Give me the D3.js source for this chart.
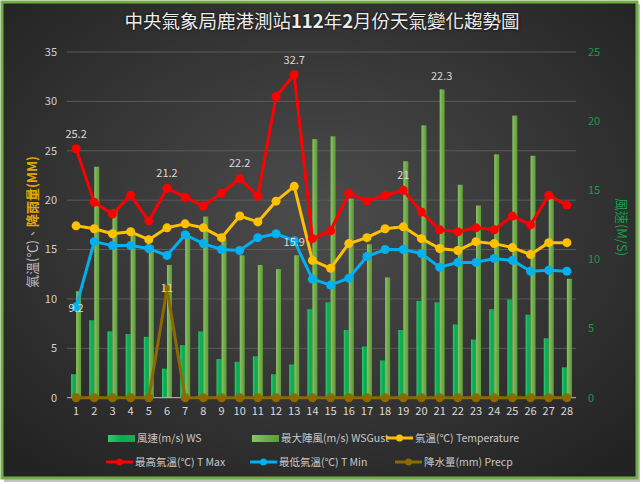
<!DOCTYPE html>
<html><head><meta charset="utf-8">
<script src="https://cdn.jsdelivr.net/npm/d3@7"></script>
<style>body{margin:0;background:#fff;}svg{display:block;font-family:"Noto Sans CJK TC","Noto Sans",sans-serif;}</style>
</head><body><svg id="c" width="643" height="484"></svg>
<script>
const days = d3.range(1, 29).map(String);
const tmax = [25.2,19.8,18.6,20.5,17.9,21.2,20.3,19.4,20.7,22.2,20.4,30.5,32.7,16.1,16.9,20.7,19.9,20.5,21,18.8,17.0,16.8,17.2,17.0,18.4,17.5,20.5,19.5];
const temp = [17.4,17.1,16.6,16.8,16.0,17.2,17.6,17.2,16.2,18.4,17.8,19.9,21.4,13.9,13.1,15.6,16.2,17.1,17.3,16.1,15.1,14.9,15.8,15.6,15.2,14.5,15.7,15.7];
const tmin = [9.2,15.8,15.4,15.4,15.1,14.4,16.5,15.6,15.0,14.9,16.2,16.6,15.9,12.0,11.4,12.1,14.3,15.0,15.0,14.6,13.2,13.7,13.7,14.1,13.9,12.8,12.9,12.8];
const precp = [0,0,0,0,0,11,0,0,0,0,0,0,0,0,0,0,0,0,0,0,0,0,0,0,0,0,0,0];
const ws = [1.7,5.6,4.8,4.6,4.4,2.1,3.8,4.8,2.8,2.6,3.0,1.7,2.4,6.4,6.9,4.9,3.7,2.7,4.9,7.0,6.9,5.3,4.2,6.4,7.1,6.0,4.3,2.2];
const gust = [7.7,16.7,13.6,11.9,11.0,9.6,11.9,13.1,11.5,10.3,9.6,9.3,10.3,18.7,18.9,14.4,11.1,8.7,17.1,19.7,22.3,15.4,13.9,17.6,20.4,17.5,14.6,8.6];
const leftTicks = [0,5,10,15,20,25,30,35];
const rightTicks = [0,5,10,15,20,25];
const labelsTmax = [0,5,9,12,18];
const labelsTmin = [0,12];
const labelsGust = [20];
const labelsPrecp = [5];

const svg = d3.select("#c");
const defs = svg.append("defs");
const rg = defs.append("radialGradient").attr("id","bg").attr("cx","50%").attr("cy","45%").attr("r","70%");
rg.append("stop").attr("offset","0%").attr("stop-color","#4c4c4c");
rg.append("stop").attr("offset","100%").attr("stop-color","#222222");
const g1 = defs.append("linearGradient").attr("id","gws").attr("x1","0").attr("x2","1").attr("y1","0").attr("y2","0");
g1.append("stop").attr("offset","0%").attr("stop-color","#3cc46e");
g1.append("stop").attr("offset","50%").attr("stop-color","#00b050");
g1.append("stop").attr("offset","100%").attr("stop-color","#1fa858");
const g2 = defs.append("linearGradient").attr("id","ggu").attr("x1","0").attr("x2","1").attr("y1","0").attr("y2","0");
g2.append("stop").attr("offset","0%").attr("stop-color","#8cc46a");
g2.append("stop").attr("offset","50%").attr("stop-color","#70ad47");
g2.append("stop").attr("offset","100%").attr("stop-color","#5f9a3a");

svg.append("rect").attr("x",4).attr("y",4).attr("width",636).attr("height",478).attr("fill","#9a9a9a").attr("opacity",0.6);
svg.append("rect").attr("x",2).attr("y",2).attr("width",635).attr("height",476).attr("fill","url(#bg)").attr("stroke","#70ad47").attr("stroke-width",3);

const L = 67, R = 576, T = 52, B = 397.7;
const x = d3.scaleBand().domain(days).range([L, R]);
const yl = d3.scaleLinear().domain([0,35]).range([B, T]);
const yr = d3.scaleLinear().domain([0,25]).range([B, T]);
const cx = d => x(d) + x.bandwidth()/2;

svg.append("g").selectAll("line").data(leftTicks.slice(1)).join("line")
  .attr("x1",L).attr("x2",R).attr("y1",d=>yl(d)).attr("y2",d=>yl(d))
  .attr("stroke","#5a5a5a").attr("stroke-width",1);

svg.append("g").selectAll("text").data(leftTicks).join("text")
  .attr("x",57).attr("y",d=>yl(d)).attr("dy","0.35em").attr("text-anchor","end")
  .attr("fill","#d0d0d0").attr("font-size",11).text(d=>d);
svg.append("g").selectAll("text").data(rightTicks).join("text")
  .attr("x",588).attr("y",d=>yr(d)).attr("dy","0.35em").attr("text-anchor","start")
  .attr("fill","#1a9a4a").attr("font-size",11).text(d=>d);

const bw = 5;
svg.append("g").selectAll("rect").data(ws).join("rect")
  .attr("x",(d,i)=>cx(days[i])-bw).attr("width",bw)
  .attr("y",d=>yr(d)).attr("height",d=>B-yr(d)).attr("fill","url(#gws)");
svg.append("g").selectAll("rect").data(gust).join("rect")
  .attr("x",(d,i)=>cx(days[i])).attr("width",bw)
  .attr("y",d=>yr(d)).attr("height",d=>B-yr(d)).attr("fill","url(#ggu)");

svg.append("line").attr("x1",L).attr("x2",R).attr("y1",B).attr("y2",B).attr("stroke","#bfbfbf").attr("stroke-width",1);

svg.append("g").selectAll("text").data(days).join("text")
  .attr("x",d=>cx(d)).attr("y",411).attr("dy","0.35em").attr("text-anchor","middle")
  .attr("fill","#d9d9d9").attr("font-size",11).text(d=>d);

function series(data, color, y){
  const g = svg.append("g");
  g.append("path").datum(data)
    .attr("d", d3.line().x((d,i)=>cx(days[i])).y(d=>y(d)))
    .attr("fill","none").attr("stroke",color).attr("stroke-width",3).attr("stroke-linejoin","round");
  g.selectAll("circle").data(data).join("circle")
    .attr("cx",(d,i)=>cx(days[i])).attr("cy",d=>y(d)).attr("r",4.5).attr("fill",color);
}
series(precp, "#8c6a00", yl);
series(tmin, "#00b0f0", yl);
series(temp, "#ffc000", yl);
series(tmax, "#ff0000", yl);

function labels(idx, data, y, dyOff){
  svg.append("g").selectAll("text").data(idx).join("text")
    .attr("x",i=>cx(days[i])).attr("y",i=>y(data[i])+dyOff).attr("dy","0.35em").attr("text-anchor","middle")
    .attr("fill","#d9d9d9").attr("font-size",11).text(i=>data[i]);
}
labels(labelsTmax, tmax, yl, -15);
labels(labelsTmin, tmin, yl, 1);
labels(labelsPrecp, precp, yl, -1);
svg.append("g").selectAll("text").data(labelsGust).join("text")
  .attr("x",i=>cx(days[i])+2).attr("y",i=>yr(gust[i])-13).attr("dy","0.35em").attr("text-anchor","middle")
  .attr("fill","#d9d9d9").attr("font-size",11).text(i=>gust[i]);

const tt = svg.append("text").attr("x",322).attr("y",22).attr("dy","0.35em").attr("text-anchor","middle")
  .attr("fill","#ececec").attr("font-size",18.5).style("text-shadow","0 0 3px #000");
tt.append("tspan").text("中央氣象局鹿港測站");
tt.append("tspan").attr("font-weight","bold").text("112");
tt.append("tspan").text("年");
tt.append("tspan").attr("font-weight","bold").text("2");
tt.append("tspan").text("月份天氣變化趨勢圖");

const lt = svg.append("text").attr("transform","translate(32,222) rotate(-90)").attr("text-anchor","middle")
  .attr("dy","0.35em").attr("font-size",13);
lt.append("tspan").attr("fill","#bfbfbf").text("氣溫(℃)、");
lt.append("tspan").attr("fill","#e0a800").attr("font-weight","bold").text("降雨量(MM)");
svg.append("text").attr("transform","translate(622,227) rotate(90)").attr("text-anchor","middle")
  .attr("dy","0.35em").attr("font-size",13).attr("fill","#1a9a4a").text("風速(M/S)");

const leg = [
  {t:"風速(m/s) WS", type:"bar", c:"url(#gws)", x:108, y:438},
  {t:"最大陣風(m/s) WSGust", type:"bar", c:"url(#ggu)", x:252, y:438},
  {t:"氣溫(℃) Temperature", type:"line", c:"#ffc000", x:386, y:438},
  {t:"最高氣溫(℃) T Max", type:"line", c:"#ff0000", x:106, y:462},
  {t:"最低氣溫(℃) T Min", type:"line", c:"#00b0f0", x:250, y:462},
  {t:"降水量(mm) Precp", type:"line", c:"#8c6a00", x:395, y:462}
];
const lg = svg.append("g").selectAll("g").data(leg).join("g");
lg.filter(d=>d.type==="bar").append("rect").attr("x",d=>d.x).attr("y",d=>d.y-3).attr("width",27).attr("height",7).attr("fill",d=>d.c);
lg.filter(d=>d.type==="line").append("line").attr("x1",d=>d.x).attr("x2",d=>d.x+27).attr("y1",d=>d.y).attr("y2",d=>d.y).attr("stroke",d=>d.c).attr("stroke-width",3);
lg.filter(d=>d.type==="line").append("circle").attr("cx",d=>d.x+13.5).attr("cy",d=>d.y).attr("r",3.5).attr("fill",d=>d.c);
lg.append("text").attr("x",d=>d.x+29).attr("y",d=>d.y).attr("dy","0.35em").attr("fill","#c8c8c8").attr("font-size",10.5).text(d=>d.t);
</script></body></html>
